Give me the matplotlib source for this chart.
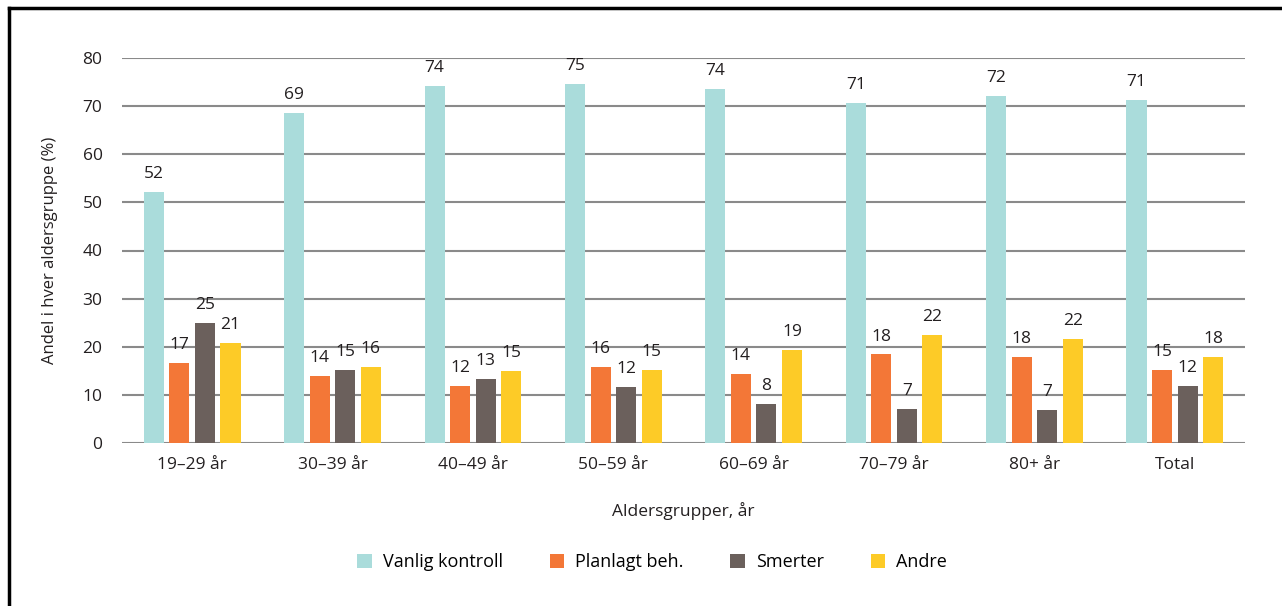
import matplotlib.pyplot as plt
from matplotlib.lines import Line2D
import numpy as np

plt.rcParams['font.family'] = ['Open Sans', 'DejaVu Sans']

groups = ["19–29 år", "30–39 år", "40–49 år", "50–59 år", "60–69 år", "70–79 år", "80+ år", "Total"]
series = ["Vanlig kontroll", "Planlagt beh.", "Smerter", "Andre"]
vanlig = [52.2, 68.6, 74.2, 74.6, 73.6, 70.7, 72.1, 71.3]
planlagt = [16.6, 13.9, 11.9, 15.8, 14.4, 18.4, 17.9, 15.2]
smerter = [24.9, 15.2, 13.3, 11.6, 8.1, 7.1, 6.9, 11.9]
andre = [20.8, 15.8, 15.0, 15.2, 19.4, 22.4, 21.6, 17.9]
colors = ["#aadcdb", "#f37737", "#6b605c", "#fdcb27"]

fig = plt.figure(figsize=(12.82, 6.06), dpi=100)
ax = fig.add_axes([122 / 1282, 1 - 443 / 606, 1123 / 1282, 385 / 606])

x = np.arange(len(groups))
w = 0.143
step = 0.182
for i, (vals, c, name) in enumerate(zip([vanlig, planlagt, smerter, andre], colors, series)):
    bars = ax.bar(x + (i - 1.5) * step, vals, w, color=c, label=name, zorder=3)
    ax.bar_label(bars, fmt="%.0f", padding=7, fontsize=12.5, color="#231f20")

ax.set_xlim(-0.5, len(groups) - 0.5)
ax.set_ylim(0, 80)
ax.set_yticks(range(0, 81, 10))
ax.set_xticks(x)
ax.set_xticklabels(groups)
ax.grid(axis="y", color="#8a8a8a", linewidth=1.5, zorder=0)
for s in ax.spines.values():
    s.set_visible(False)
ax.tick_params(length=0, labelsize=12.5, colors="#231f20", pad=10)
ax.tick_params(axis="y", pad=14)
ax.set_xlabel("Aldersgrupper, år", fontsize=12.5, color="#231f20", labelpad=21)
ax.set_ylabel("Andel i hver aldersgruppe (%)", fontsize=12, color="#231f20", labelpad=18)

fig.legend(loc="center", bbox_to_anchor=(652 / 1282, 1 - 562 / 606), ncol=4, frameon=False,
           fontsize=13, handlelength=0.8, handleheight=0.8, columnspacing=2.6, handletextpad=0.6)

fig.add_artist(Line2D([9 / 1282, 9 / 1282], [0, 1 - 8 / 606], color="black", linewidth=2.5))
fig.add_artist(Line2D([9 / 1282, 1], [1 - 8 / 606, 1 - 8 / 606], color="black", linewidth=2.5))

fig.savefig("out.png", dpi=100)
